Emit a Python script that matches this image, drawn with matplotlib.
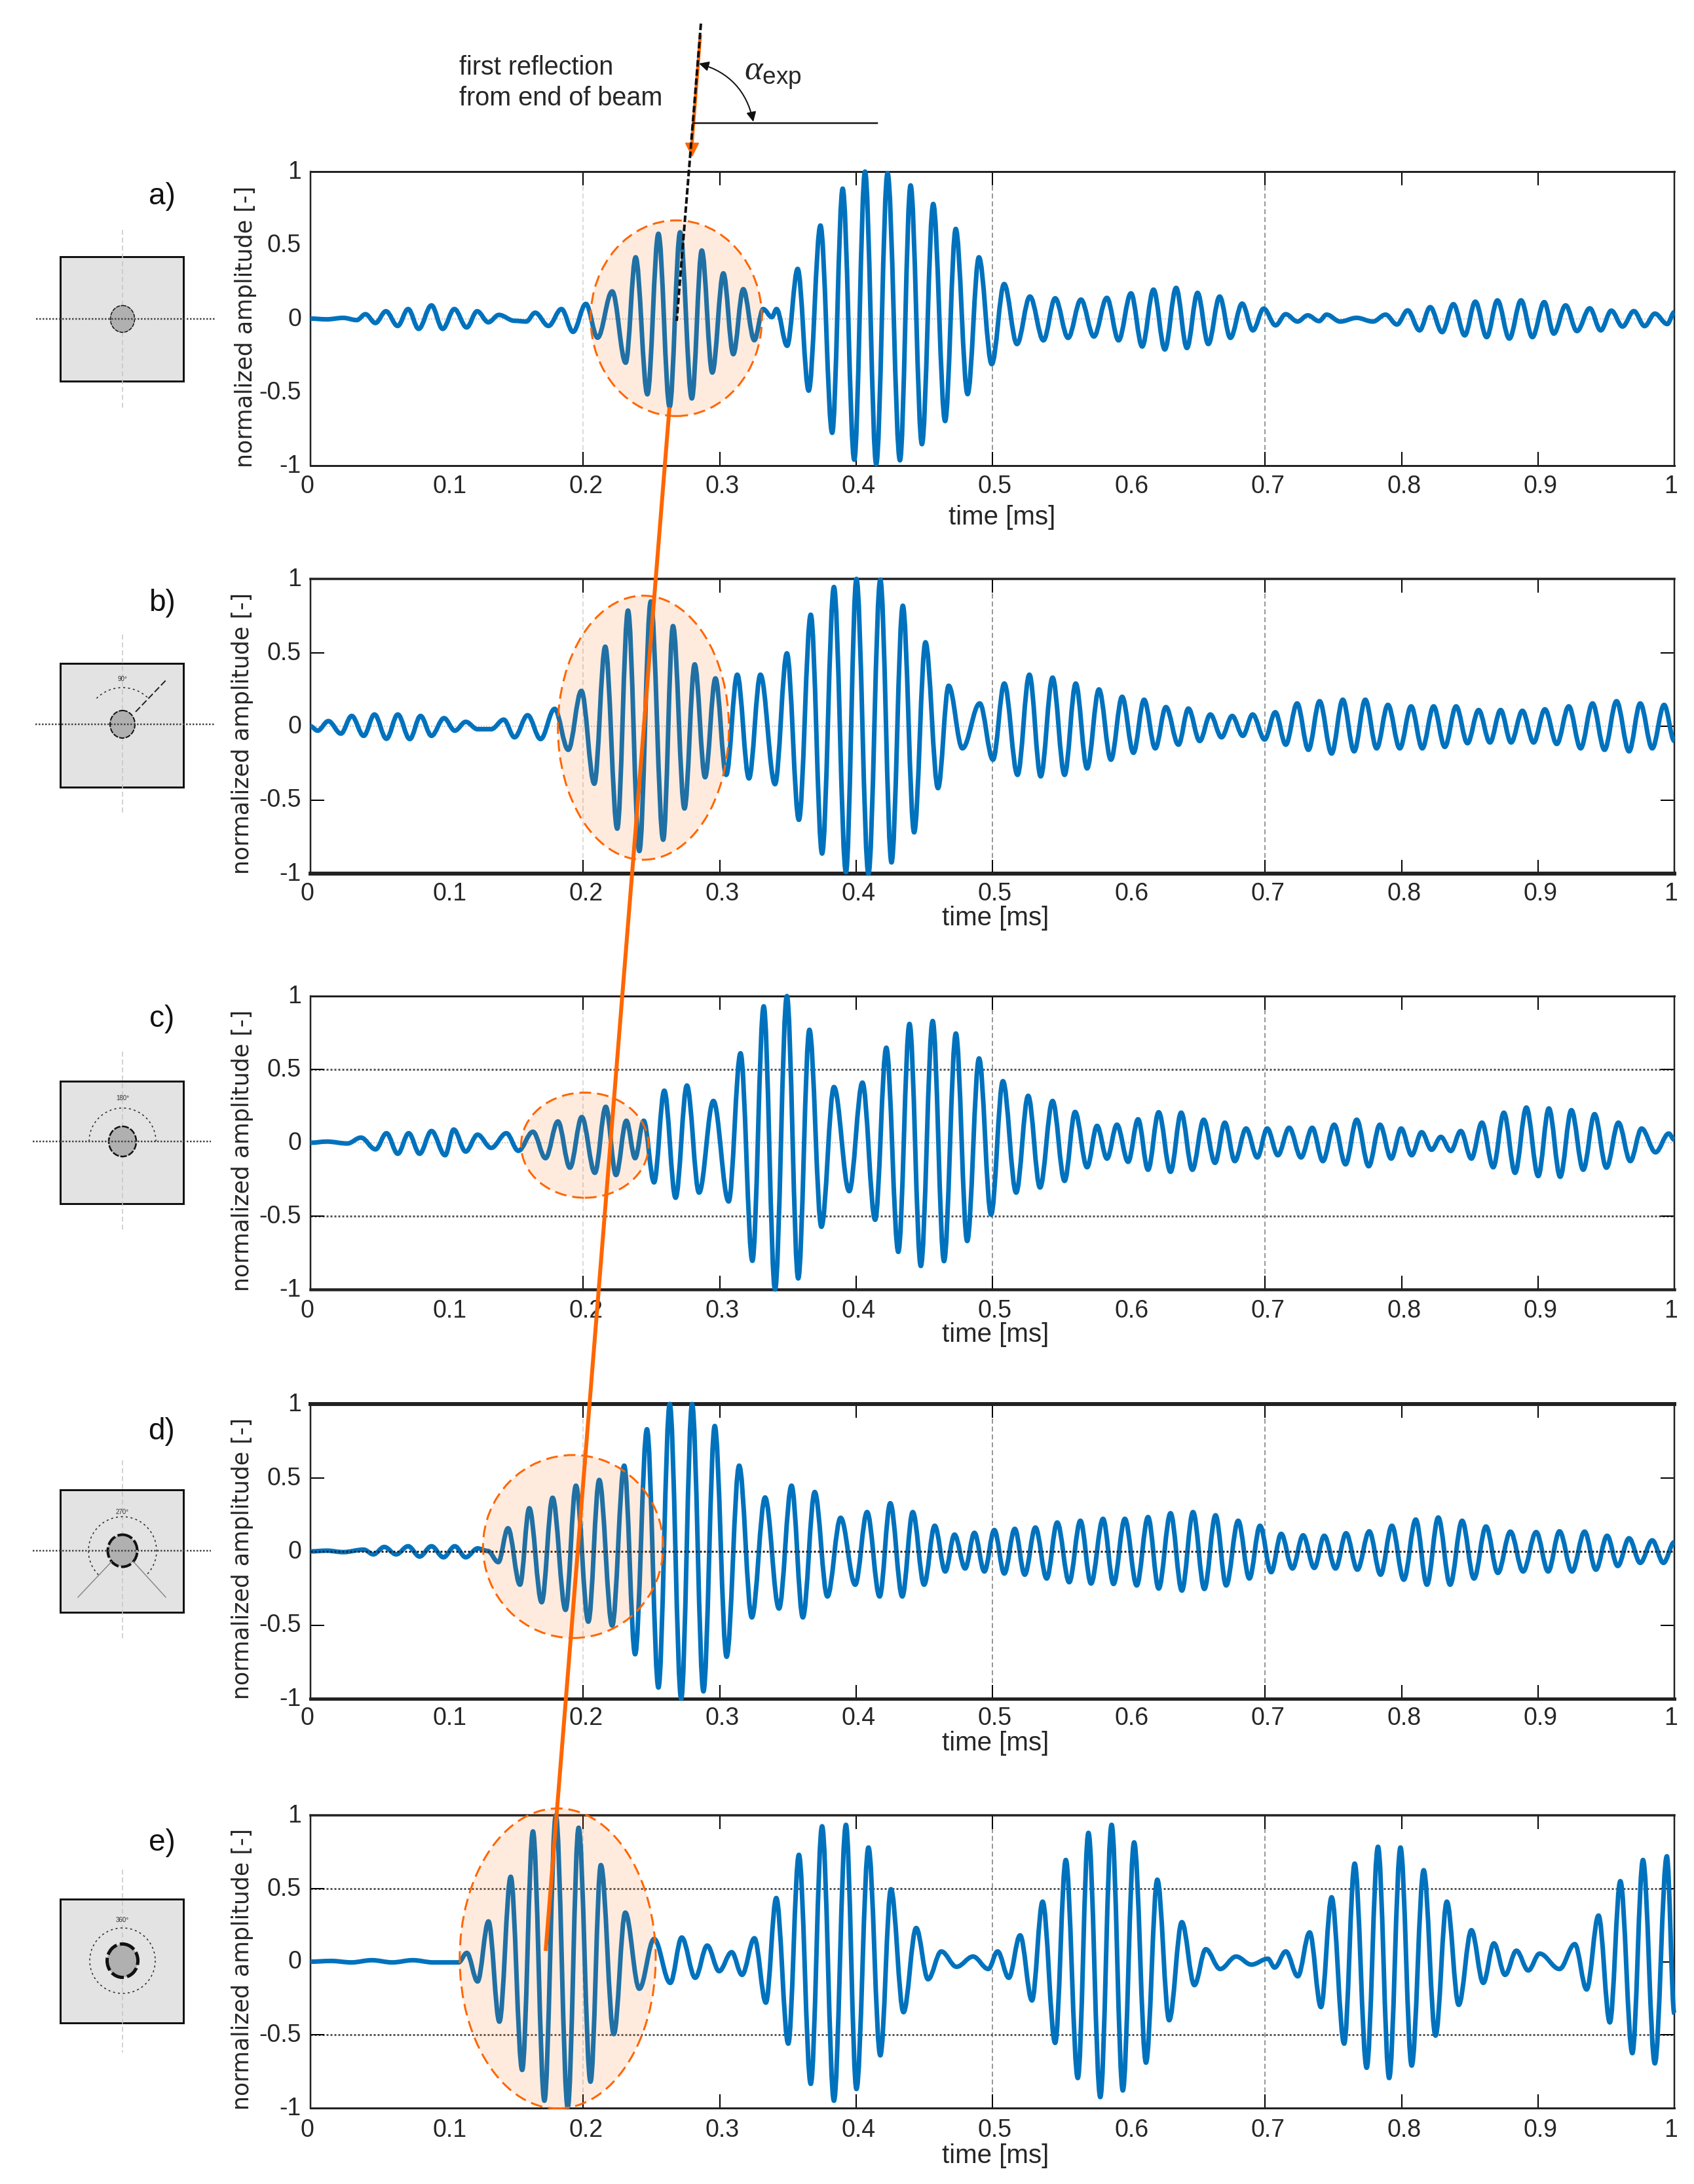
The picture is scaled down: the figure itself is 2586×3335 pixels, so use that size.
"""
Normalized amplitude against time for five beam positions a) to e).
Values are the peaks and troughs read off the original figure.
"""

# Library Imports
import matplotlib
matplotlib.use("Agg")
import matplotlib.pyplot as plt
from matplotlib.patches import Ellipse, Rectangle, Arc, FancyArrowPatch, PathPatch
from matplotlib.path import Path
from matplotlib.transforms import ScaledTranslation

plt.rcParams["font.family"] = ["Liberation Sans", "DejaVu Sans"]
plt.rcParams["mathtext.fontset"] = "custom"
plt.rcParams["mathtext.rm"] = "Liberation Sans"
plt.rcParams["mathtext.it"] = "Liberation Serif:italic"

"""
Data
"""

TIME_A = [0, .012, .024, .0339, .0403, .0476, .0553, .0639, .0716, .0793, .0887, .0969, .1055, .1145, .1222, .1304,
          .1381, .1496, .1582, .1647, .1745, .184, .1925, .2019, .2105, .2212, .2311, .2384, .247, .2551, .2633, .271,
          .2796, .2869, .2946, .3027, .31, .3173, .3254, .3319, .3383, .3417, .3495, .3572, .3653, .3739, .3825, .3902,
          .3987, .4066, .4148, .4231, .4322, .44, .4483, .4566, .4653, .4731, .4818, .4901, .4995, .5086, .518, .5275,
          .5374, .546, .5555, .5649, .5744, .5839, .5925, .6016, .6098, .6181, .6264, .6347, .6426, .6504, .6583, .6666,
          .6745, .6831, .691, .6989, .7076, .715, .7237, .7312, .7395, .745, .755, .767, .779, .7883, .7966, .8045,
          .8132, .821, .8297, .838, .8463, .8541, .8624, .8703, .879, .8876, .8959, .9046, .9116, .9203, .9286, .938,
          .946, .9538, .962, .9703, .9782, .9857, .9948, 1.0]
AMP_A = [0, -.005, .005, -.01, .03, -.03, .05, -.05, .065, -.07, .09, -.07, .065, -.06, .05, -.025,
         .025, -.015, -.02, .04, -.05, .065, -.09, .1, -.13, .185, -.30, .417, -.515, .577, -.60, .587,
         -.543, .463, -.367, .308, -.242, .2, -.147, .065, .01, .065, -.185, .338, -.49, .633, -.777, .884,
         -.96, 1.0, -.99, .99, -.964, .906, -.854, .78, -.697, .61, -.514, .417, -.31, .235, -.173, .15,
         -.148, .138, -.131, .129, -.122, .141, -.148, .172, -.19, .197, -.21, .209, -.2, .175, -.173, .15,
         -.131, .102, -.08, .068, -.046, .03, -.02, .022, -.017, .027, -.02, .005, -.02, .027, -.04, .056,
         -.08, .078, -.092, .098, -.114, .115, -.126, .124, -.136, .124, -.126, .112, -.102, .09, -.085, .07,
         -.08, .054, -.054, .051, -.051, .034, -.037, .044]

TIME_B = [0, .0052, .0131, .0223, .0302, .039, .0469, .0557, .064, .0728, .0807, .0887, .0979, .1058, .1138, .1225,
          .1325, .1417, .1496, .1592, .1687, .179, .189, .1986, .2081, .2161, .2249, .2328, .2411, .2495, .2586, .2658,
          .2742, .2817, .2893, .2969, .3048, .3129, .3215, .3299, .3406, .3493, .3581, .3668, .3751, .3838, .3926, .4003,
          .4091, .4178, .426, .4343, .4426, .4509, .4601, .4679, .478, .4907, .5004, .5087, .5184, .5271, .5354, .5441,
          .5529, .5611, .5694, .5781, .5869, .5951, .6034, .6112, .6194, .6272, .6364, .6437, .652, .6598, .668, .6758,
          .6836, .6908, .6996, .7074, .7151, .7234, .7317, .7399, .7487, .7569, .7652, .7734, .7817, .79, .7987, .807,
          .8152, .8235, .8317, .84, .8483, .8565, .8648, .8726, .8803, .8886, .8968, .9051, .9138, .9226, .9313, .94,
          .9488, .9576, .9668, .975, .9838, .9925, 1.0]
AMP_B = [0, -.03, .035, -.05, .07, -.065, .08, -.085, .08, -.087, .07, -.065, .055, -.03, .03, -.02,
         -.02, .045, -.075, .075, -.087, .118, -.16, .24, -.39, .54, -.695, .785, -.847, .847, -.77, .68,
         -.558, .42, -.346, .325, -.33, .35, -.354, .35, -.393, .495, -.635, .757, -.864, .945, -.99, 1.0,
         -1.0, .995, -.924, .818, -.72, .57, -.42, .275, -.15, .155, -.227, .29, -.33, .35, -.34, .33,
         -.33, .29, -.286, .25, -.227, .2, -.18, .18, -.15, .13, -.125, .12, -.1, .08, -.075, .07,
         -.065, .08, -.09, .095, -.125, .155, -.16, .17, -.185, .18, -.17, .18, -.15, .145, -.15, .135,
         -.15, .135, -.14, .135, -.115, .11, -.11, .11, -.11, .105, -.11, .115, -.12, .135, -.15, .155,
         -.16, .17, -.17, .155, -.15, .145, -.1]

TIME_C = [0, .012, .027, .037, .0477, .0557, .064, .072, .08, .0887, .0987, .105, .1138, .1225, .1325, .1436,
          .1524, .1631, .1723, .1814, .1902, .1989, .2085, .2165, .224, .2316, .238, .2443, .2519, .2594, .2677, .276,
          .2849, .2954, .3066, .3153, .324, .3323, .3406, .3493, .3576, .3658, .3746, .3838, .395, .4047, .414, .4222,
          .431, .4392, .4475, .4562, .4645, .4732, .4815, .4902, .499, .5077, .5174, .5262, .5349, .5441, .5529, .5606,
          .5694, .5767, .584, .5913, .5995, .6068, .6141, .6219, .6306, .6384, .6466, .6549, .6632, .6704, .6777, .686,
          .6942, .7015, .7093, .7176, .7263, .7345, .7423, .7506, .7589, .7671, .7759, .7841, .7924, .7997, .8074, .8147,
          .822, .8288, .8361, .8434, .8512, .8589, .8672, .875, .8832, .8915, .9002, .908, .9163, .9245, .9332, .9415,
          .9502, .959, .9677, .976, .9862, .9959, 1.0]
AMP_C = [0, .008, -.005, .035, -.045, .065, -.075, .065, -.075, .08, -.085, .09, -.06, .055, -.035, .065,
         -.055, .075, -.105, .145, -.17, .175, -.205, .245, -.22, .15, -.105, .15, -.27, .355, -.375, .39,
         -.34, .285, -.4, .61, -.805, .93, -1.0, 1.0, -.925, .77, -.573, .38, -.33, .41, -.525, .648,
         -.744, .81, -.84, .83, -.807, .745, -.67, .575, -.49, .42, -.34, .32, -.305, .285, -.26, .21,
         -.167, .115, -.108, .123, -.13, .16, -.184, .208, -.198, .205, -.184, .157, -.137, .137, -.125, .097,
         -.1, .097, -.085, .102, -.1, .102, -.125, .123, -.147, .157, -.16, .123, -.108, .097, -.085, .072,
         -.048, .04, -.056, .08, -.108, .137, -.167, .205, -.205, .24, -.227, .234, -.232, .222, -.184, .195,
         -.17, .137, -.125, .097, -.065, .063, .02]

TIME_D = [0, .012, .024, .039, .0461, .0541, .0628, .0716, .08, .0887, .0975, .1058, .1138, .1225, .13, .1377,
          .1448, .1536, .1604, .1695, .1775, .187, .1946, .2037, .2117, .2212, .23, .238, .2467, .2551, .2634, .2718,
          .2798, .2881, .2964, .3051, .3143, .3236, .3333, .3435, .3527, .361, .3697, .379, .3887, .3994, .4081, .4173,
          .4251, .4339, .4416, .4499, .4577, .4654, .4722, .48, .4868, .4941, .5014, .5087, .5164, .5237, .5315, .5398,
          .5475, .5563, .5645, .5723, .5811, .5888, .5971, .6058, .6141, .6219, .6306, .6389, .6471, .6554, .6636, .6714,
          .6802, .6884, .6962, .7044, .7117, .72, .7278, .736, .7433, .7516, .7593, .7676, .7763, .7846, .7929, .8016,
          .8104, .8186, .8269, .8356, .8444, .8531, .8619, .8706, .8798, .8891, .8987, .9075, .9158, .925, .9342, .9425,
          .9507, .9585, .9668, .975, .9838, .992, 1.0]
AMP_D = [0, .005, -.005, .012, -.02, .03, -.02, .035, -.035, .035, -.04, .035, -.04, .02, .003, -.073,
         .157, -.226, .293, -.345, .364, -.397, .446, -.477, .485, -.504, .582, -.698, .829, -.924, 1.0, -1.0,
         1.0, -.95, .851, -.715, .582, -.448, .366, -.388, .446, -.448, .403, -.306, .228, -.226, .267, -.306,
         .327, -.306, .267, -.226, .174, -.136, .114, -.116, .126, -.136, .145, -.15, .153, -.158, .162, -.184,
         .196, -.209, .208, -.218, .221, -.221, .221, -.231, .233, -.252, .259, -.266, .267, -.255, .245, -.231,
         .208, -.184, .174, -.141, .119, -.116, .109, -.112, .106, -.116, .123, -.124, .136, -.158, .174, -.192,
         .216, -.226, .23, -.226, .208, -.184, .169, -.146, .134, -.136, .131, -.136, .136, -.136, .134, -.124,
         .106, -.099, .089, -.078, .075, -.078, .063]

TIME_E = [0, .015, .03, .045, .06, .075, .09, .1086, .1146, .1225, .1305, .1385, .1468, .1552, .1631, .1715,
          .1799, .1886, .1966, .2053, .2129, .2224, .2308, .2411, .2519, .2638, .2722, .2821, .2909, .2996, .3088, .3164,
          .3255, .3339, .3415, .3503, .3581, .3668, .3751, .3838, .3926, .4003, .4091, .4178, .4256, .4348, .4441, .4528,
          .4625, .4737, .4858, .497, .5038, .512, .5203, .529, .5368, .546, .5538, .5626, .5704, .5791, .5874, .5956,
          .6039, .6126, .6209, .6296, .6389, .6481, .6564, .667, .6787, .6899, .702, .7069, .7151, .7239, .7326, .7409,
          .7487, .7579, .7656, .7744, .7827, .7909, .7992, .8074, .8162, .8249, .8332, .8419, .8512, .8599, .8677, .8759,
          .8842, .8929, .9012, .9158, .927, .9357, .9444, .9527, .9604, .9692, .977, .9857, .9945, 1.0]
AMP_E = [0, .005, -.005, .01, -.005, .01, -.005, -.005, .06, -.135, .275, -.41, .58, -.74, .89, -.95,
         1.0, -.995, .915, -.82, .66, -.495, .335, -.185, .155, -.145, .165, -.11, .11, -.065, .065, -.09,
         .16, -.28, .435, -.56, .73, -.835, .925, -.95, .935, -.87, .78, -.64, .495, -.345, .23, -.12,
         .07, -.035, .035, -.05, .07, -.11, .18, -.265, .41, -.555, .695, -.795, .88, -.925, .935, -.88,
         .815, -.69, .56, -.4, .27, -.16, .085, -.05, .035, -.02, .02, -.04, .07, -.1, .2, -.31,
         .44, -.56, .67, -.725, .785, -.795, .78, -.71, .625, -.505, .41, -.295, .215, -.145, .125, -.09,
         .075, -.06, .055, -.05, .12, -.19, .315, -.415, .55, -.625, .695, -.695, .72, -.355]

TIMES = [TIME_A, TIME_B, TIME_C, TIME_D, TIME_E]
AMPS = [AMP_A, AMP_B, AMP_C, AMP_D, AMP_E]

PANEL_LABELS = ["a)", "b)", "c)", "d)", "e)"]
ANGLE_LABELS = [None, "90°", "180°", "270°", "360°"]
ARC_SWEEP = [None, (225, 315), (180, 360), (135, 405), (0, 360)]

X_TICKS = [0, .1, .2, .3, .4, .5, .6, .7, .8, .9, 1]
X_TICK_LABELS = ["0", "0.1", "0.2", "0.3", "0.4", "0.5", "0.6", "0.7", "0.8", "0.9", "1"]
Y_TICKS = [-1, -.5, 0, .5, 1]
Y_TICK_LABELS = ["-1", "-0.5", "0", "0.5", "1"]

# Marked time window of each panel: t from, t to, amplitude from, amplitude to
WINDOW_T0 = [.2054, .1814, .1544, .1265, .1094]
WINDOW_T1 = [.331, .3068, .2479, .2586, .2531]
WINDOW_A0 = [-.663, -.906, -.375, -.588, -1.003]
WINDOW_A1 = [.668, .886, .342, .654, 1.047]

"""
Layout, in pixels of the final picture
"""

W, H = 2586, 3335
AX_LEFT, AX_RIGHT = 474, 2556
AX_TOP = [262, 884, 1521, 2144, 2772]
AX_BOTTOM = [711, 1334, 1969, 2594, 3219]
TOP_WIDTH = [3.0, 3.5, 3.0, 6.0, 3.5]
BOTTOM_WIDTH = [3.0, 6.0, 4.5, 5.0, 3.0]

LABEL_Y = [300, 921, 1556, 2186, 2814]
YLABEL_X = [375, 370, 370, 370, 370]
YLABEL_Y = [499, 1120, 1757, 2380, 3007]
TIME_X = [1530, 1520, 1520, 1520, 1520]
TIME_Y = [790, 1402, 2038, 2662, 3292]
TICK_PAD = [14, 13, 15, 12, 16]

BOX_TOP = [392, 1013, 1651, 2275, 2900]
BOX_BOTTOM = [582, 1202, 1838, 2462, 3089]
HOLE_Y = [487, 1106, 1743, 2368, 2994]
CROSS_TOP = [351, 969, 1606, 2230, 2855]
CROSS_BOTTOM = [627, 1242, 1882, 2506, 3134]
CROSS_LEFT = [55, 54, 50, 50, None]
CROSS_RIGHT = [328, 328, 322, 322, None]
ANGLE_Y = [None, 1037, 1677, 2309, 2932]
ARC_R = [None, 56, 51, 52, 50]
HOLE_W = [37, 38, 42, 45, 47]
HOLE_LINE = [1.5, 2.0, 2.5, 4.0, 5.0]

BLUE = "#0072BD"
ORANGE = "#FF6600"
TEXT = "#262626"
px = 72 / 100

"""
Plotting
"""


def signal_path(times, amps):
    # rounded crests between the read peaks and troughs, tangents flat at each of them
    verts = [(times[0], amps[0])]
    codes = [Path.MOVETO]
    for k in range(1, len(times)):
        step = times[k] - times[k - 1]
        verts += [(times[k - 1] + .36 * step, amps[k - 1]), (times[k] - .36 * step, amps[k]), (times[k], amps[k])]
        codes += [Path.CURVE4, Path.CURVE4, Path.CURVE4]
    return Path(verts, codes)


fig = plt.figure(figsize=(W / 100, H / 100), dpi=100)

for i in range(5):
    pos = [AX_LEFT / W, 1 - AX_BOTTOM[i] / H, (AX_RIGHT - AX_LEFT) / W, (AX_BOTTOM[i] - AX_TOP[i]) / H]
    ax = fig.add_axes(pos)
    ax.set_xlim(0, 1)
    ax.set_ylim(-1, 1)

    # grid lines that are left in the figure
    ax.axvline(.2, color="#cfcfcf", lw=1.5 * px, ls=(0, (5, 3)), zorder=1)
    ax.axvline(.5, color="#777777", lw=1.5 * px, ls=(0, (5, 3)), zorder=1)
    ax.axvline(.7, color="#777777", lw=1.5 * px, ls=(0, (5, 3)), zorder=1)
    if i in (2, 4):
        ax.axhline(.5, color="#555555", lw=3 * px, ls=(0, (1, 1)), zorder=1)
        ax.axhline(-.5, color="#555555", lw=3 * px, ls=(0, (1, 1)), zorder=1)
    if i in (0, 1, 2):
        ax.axhline(0, color="#cccccc", lw=2 * px, ls=(0, (1, 1)), zorder=1)

    ax.add_patch(PathPatch(signal_path(TIMES[i], AMPS[i]), facecolor="none", edgecolor=BLUE, lw=7 * px,
                           joinstyle="round", clip_on=False, zorder=3))

    if i == 3:
        ax.axhline(0, color="#222222", lw=3 * px, ls=(0, (1, 1)), zorder=4)

    ax.add_patch(Ellipse(((WINDOW_T0[i] + WINDOW_T1[i]) / 2, (WINDOW_A0[i] + WINDOW_A1[i]) / 2),
                         WINDOW_T1[i] - WINDOW_T0[i], WINDOW_A1[i] - WINDOW_A0[i],
                         facecolor=(1, .4, 0, .13), edgecolor="none", clip_on=False, zorder=5))
    ax.add_patch(Ellipse(((WINDOW_T0[i] + WINDOW_T1[i]) / 2, (WINDOW_A0[i] + WINDOW_A1[i]) / 2),
                         WINDOW_T1[i] - WINDOW_T0[i], WINDOW_A1[i] - WINDOW_A0[i],
                         facecolor="none", edgecolor=ORANGE, lw=3 * px, ls=(0, (6, 3)), clip_on=False, zorder=5))

    ax.set_xticks(X_TICKS, X_TICK_LABELS)
    ax.set_yticks(Y_TICKS, Y_TICK_LABELS)
    ax.tick_params(axis="both", direction="in", length=21 * px, width=2 * px, top=True, right=True,
                   labelsize=27, labelcolor=TEXT)
    ax.tick_params(axis="x", pad=TICK_PAD[i] * px)
    ax.tick_params(axis="y", pad=14 * px)

    # only some of the tick marks show up in the figure
    for value, tick in zip(X_TICKS, ax.xaxis.get_major_ticks()):
        if value in (0, .1, .6, 1):
            tick.tick1line.set_visible(False)
            tick.tick2line.set_visible(False)
        elif value in (.3, .4, .8, .9):
            tick.tick1line.set_color("#777777")
            tick.tick2line.set_color("#777777")
    for value, tick in zip(Y_TICKS, ax.yaxis.get_major_ticks()):
        if value in (-1, 1) or (value == 0 and i in (0, 2, 3)) or i == 0:
            tick.tick1line.set_visible(False)
            tick.tick2line.set_visible(False)
        elif value == 0:
            tick.tick1line.set_visible(False)

    for tick, label in zip(ax.xaxis.get_major_ticks(), X_TICK_LABELS):
        shift = -5 if label in ("0", "1") else 4
        tick.label1.set_transform(tick.label1.get_transform() + ScaledTranslation(shift / 100, 0, fig.dpi_scale_trans))
    for tick in ax.yaxis.get_major_ticks():
        tick.label1.set_transform(tick.label1.get_transform() + ScaledTranslation(0, 3 / 100, fig.dpi_scale_trans))

    for side in ["left", "right"]:
        ax.spines[side].set_linewidth(2.5 * px)
        ax.spines[side].set_color("#222222")
    ax.spines["top"].set_linewidth(TOP_WIDTH[i] * px)
    ax.spines["bottom"].set_linewidth(BOTTOM_WIDTH[i] * px)
    ax.spines["top"].set_color("#222222")
    ax.spines["bottom"].set_color("#222222")

# everything that lies across the panels is placed in picture pixels
over = fig.add_axes([0, 0, 1, 1], zorder=10)
over.set_xlim(0, W)
over.set_ylim(H, 0)
over.axis("off")

for i in range(5):
    over.text(247, LABEL_Y[i], PANEL_LABELS[i], fontsize=33, ha="center", va="center", color="#111111")
    over.text(YLABEL_X[i], YLABEL_Y[i], "normalized amplitude [-]", fontsize=25, family="DejaVu Sans", rotation=90,
              ha="center", va="center", color=TEXT)
    over.text(TIME_X[i], TIME_Y[i], "time [ms]", fontsize=29, ha="center", va="center", color=TEXT)

    # small beam cross section on the left
    over.add_patch(Rectangle((92, BOX_TOP[i]), 188, BOX_BOTTOM[i] - BOX_TOP[i], facecolor="#E3E3E3",
                             edgecolor="#111111", lw=3 * px, zorder=1))
    over.plot([187, 187], [CROSS_TOP[i], CROSS_BOTTOM[i]], color="#c4c4c4", lw=1.5 * px, ls=(0, (5, 3)), zorder=2)
    if CROSS_LEFT[i] is not None:
        over.plot([CROSS_LEFT[i], CROSS_RIGHT[i]], [HOLE_Y[i], HOLE_Y[i]], color="#444444", lw=2.5 * px,
                  ls=(0, (1, 1)), zorder=4)
    over.add_patch(Ellipse((187, HOLE_Y[i]), HOLE_W[i], HOLE_W[i] + 4, facecolor="#B0B0B0", edgecolor="#111111",
                           lw=HOLE_LINE[i] * px, ls=(0, (4, 1)), zorder=3))
    if ARC_SWEEP[i] is not None:
        # y runs downwards on this axes, so the sweep is given as seen on the page
        over.add_patch(Arc((187, HOLE_Y[i]), 2 * ARC_R[i], 2 * ARC_R[i], theta1=ARC_SWEEP[i][0], theta2=ARC_SWEEP[i][1],
                           color="#222222", lw=1.5 * px, ls=(0, (2, 3)), zorder=3))
        over.text(187, ANGLE_Y[i], ANGLE_LABELS[i], fontsize=7, ha="center", va="center", color="#333333")

over.plot([207, 253], [1087, 1039], color="#222222", lw=2 * px, ls=(0, (5, 2)), zorder=4)
over.plot([170, 119], [2385, 2439], color="#888888", lw=1.5 * px, zorder=4)
over.plot([204, 253], [2385, 2439], color="#888888", lw=1.5 * px, zorder=4)

# orange line through the first reflections, black fit line and angle on top
over.plot([1022, 833], [622, 2979], color=ORANGE, lw=6 * px, solid_capstyle="butt", zorder=6)
over.plot([1069, 1056], [56, 224], color=ORANGE, lw=5 * px, zorder=6)
over.plot([1056], [228], marker="v", ms=20 * px, color=ORANGE, zorder=6)
over.plot([1070, 1033], [36, 490], color="#111111", lw=4 * px, ls=(0, (2.5, 1)), zorder=7)
over.plot([1058, 1339], [188, 188], color="#111111", lw=2.5 * px, zorder=7)
over.add_patch(FancyArrowPatch((1067, 97), (1150, 186), connectionstyle="arc3,rad=-0.3", arrowstyle="<|-|>",
                               mutation_scale=22, color="#111111", lw=2 * px, shrinkA=0, shrinkB=0, zorder=7))

over.text(701, 103, "first reflection", fontsize=28.5, ha="left", va="center", color=TEXT)
over.text(701, 150, "from end of beam", fontsize=28.5, ha="left", va="center", color=TEXT)
over.text(1136, 114, r"$\mathit{\alpha}_{\mathrm{exp}}$", fontsize=38, ha="left", va="center", color=TEXT)

fig.savefig("out.png", dpi=100, facecolor="white")
